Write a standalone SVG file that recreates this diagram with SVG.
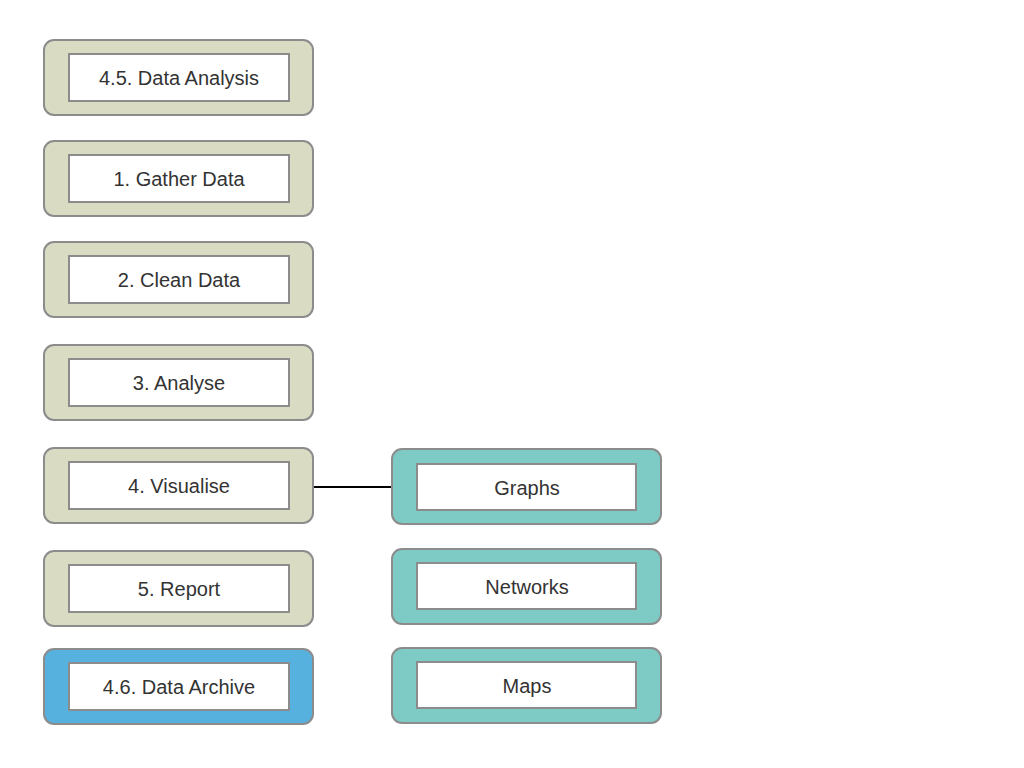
<svg xmlns="http://www.w3.org/2000/svg" width="1024" height="768" viewBox="0 0 1024 768">
<style>
.o{stroke:#8c8c8c;stroke-width:2}
.b{fill:#d9dbc3}
.t{fill:#7ecac4}
.a{fill:#57b1de}
.i{fill:#fff;stroke:#8c8c8c;stroke-width:2}
text{font-family:"Liberation Sans",Arial,sans-serif;font-size:20px;fill:#333;text-anchor:middle;dominant-baseline:central}
</style>
<rect width="1024" height="768" fill="#fff"/>
<g id="connectors">
<line x1="313" y1="487" x2="392" y2="487" stroke="#000" stroke-width="2"/>
</g>
<g id="n1"><rect class="o b" x="44" y="40" width="269" height="75" rx="10"/><rect class="i" x="69" y="54" width="220" height="47"/><text x="179" y="78">4.5. Data Analysis</text></g>
<g id="n2"><rect class="o b" x="44" y="141" width="269" height="75" rx="10"/><rect class="i" x="69" y="155" width="220" height="47"/><text x="179" y="179">1. Gather Data</text></g>
<g id="n3"><rect class="o b" x="44" y="242" width="269" height="75" rx="10"/><rect class="i" x="69" y="256" width="220" height="47"/><text x="179" y="280">2. Clean Data</text></g>
<g id="n4"><rect class="o b" x="44" y="345" width="269" height="75" rx="10"/><rect class="i" x="69" y="359" width="220" height="47"/><text x="179" y="383">3. Analyse</text></g>
<g id="n5"><rect class="o b" x="44" y="448" width="269" height="75" rx="10"/><rect class="i" x="69" y="462" width="220" height="47"/><text x="179" y="486">4. Visualise</text></g>
<g id="n6"><rect class="o b" x="44" y="551" width="269" height="75" rx="10"/><rect class="i" x="69" y="565" width="220" height="47"/><text x="179" y="589">5. Report</text></g>
<g id="n7"><rect class="o a" x="44" y="649" width="269" height="75" rx="10"/><rect class="i" x="69" y="663" width="220" height="47"/><text x="179" y="687">4.6. Data Archive</text></g>
<g id="n8"><rect class="o t" x="392" y="449" width="269" height="75" rx="10"/><rect class="i" x="417" y="464" width="219" height="46"/><text x="527" y="488">Graphs</text></g>
<g id="n9"><rect class="o t" x="392" y="549" width="269" height="75" rx="10"/><rect class="i" x="417" y="563" width="219" height="46"/><text x="527" y="587">Networks</text></g>
<g id="n10"><rect class="o t" x="392" y="648" width="269" height="75" rx="10"/><rect class="i" x="417" y="662" width="219" height="46"/><text x="527" y="686">Maps</text></g>
</svg>
